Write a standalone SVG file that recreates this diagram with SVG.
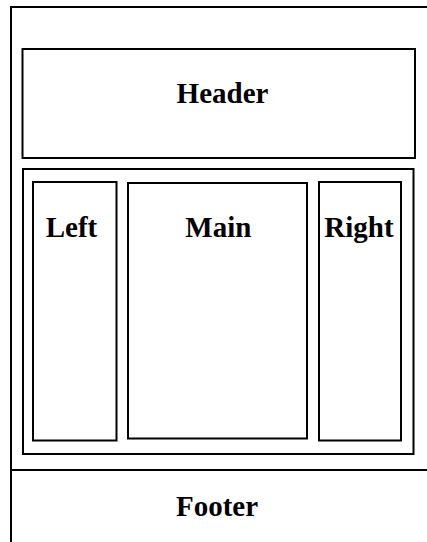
<svg xmlns="http://www.w3.org/2000/svg" width="427" height="542" viewBox="0 0 427 542">
<style>
.box{fill:none;stroke:#000;stroke-width:2}
.lbl{font-family:"Liberation Serif","Times New Roman",serif;font-weight:bold;font-size:29px;fill:#000;text-anchor:middle}
</style>
<rect width="427" height="542" fill="#fff"/>
<g id="page">
<rect class="box" x="11" y="7" width="425" height="545"/>
</g>
<g id="header">
<rect class="box" x="22.5" y="49" width="392.5" height="109"/>
<text class="lbl" x="222.5" y="103">Header</text>
</g>
<g id="content">
<rect class="box" x="23" y="169" width="390.5" height="285"/>
</g>
<g id="left">
<rect class="box" x="33" y="182" width="83.5" height="258.5"/>
<text class="lbl" x="71.5" y="236.5">Left</text>
</g>
<g id="main">
<rect class="box" x="128" y="183" width="179" height="255.5"/>
<text class="lbl" x="218.3" y="236.5">Main</text>
</g>
<g id="right">
<rect class="box" x="319" y="182" width="82" height="258.5"/>
<text class="lbl" x="359" y="236.5">Right</text>
</g>
<g id="footer">
<line class="box" x1="11" y1="470" x2="427" y2="470"/>
<text class="lbl" x="217" y="516">Footer</text>
</g>
<g id="connectors"></g>
</svg>
